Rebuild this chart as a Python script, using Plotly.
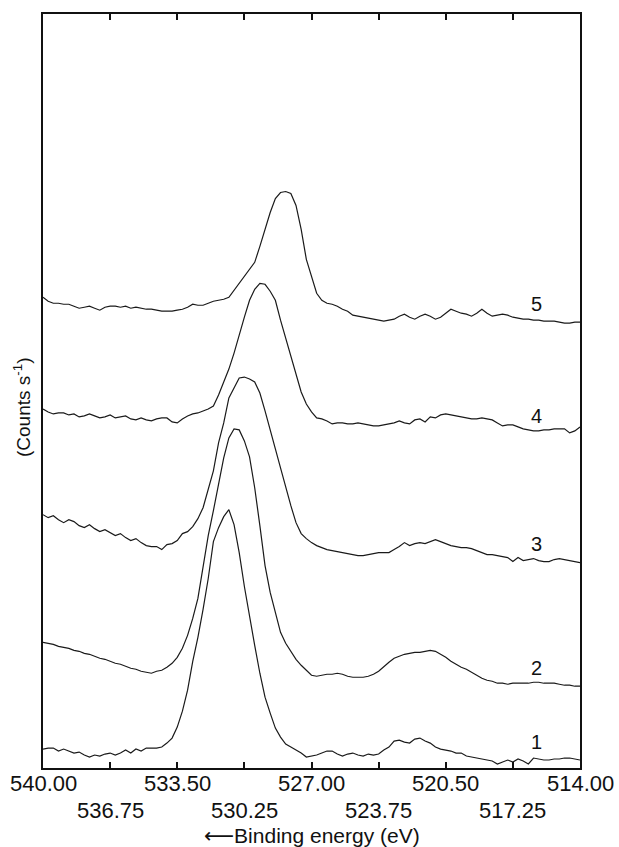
import plotly.graph_objects as go

# Binding-energy sampling of the O 1s spectra (eV), 0.25 eV step from 540 eV down to 514 eV
energy_start = 540.0
energy_step = 0.25

# Offset intensities (arbitrary units) for spectra 1-5
spectrum_1 = [
    19, 20, 20, 17, 19, 17, 15, 16, 13, 11,
    13, 12, 14, 15, 13, 15, 18, 15, 19, 17,
    20, 20, 20, 21, 25, 30, 41, 57, 78, 107,
    131, 159, 190, 227, 241, 252, 259, 244, 216, 182,
    151, 123, 95, 71, 55, 40, 31, 24, 21, 18,
    15, 11, 12, 13, 15, 17, 17, 14, 12, 14,
    15, 13, 12, 14, 13, 14, 18, 21, 27, 28,
    26, 25, 29, 30, 27, 25, 21, 19, 18, 17,
    15, 15, 12, 11, 10, 9, 8, 7, 4, 6,
    8, 6, 9, 7, 4, 10, 9, 8, 8, 9,
    9, 10, 10, 9, 8,
]
spectrum_2 = [
    126, 125, 124, 122, 121, 120, 118, 117, 115, 114,
    112, 110, 109, 107, 105, 104, 102, 100, 99, 97,
    96, 95, 97, 98, 101, 105, 111, 120, 133, 150,
    170, 200, 233, 258, 286, 311, 331, 340, 339, 328,
    312, 281, 243, 203, 176, 156, 136, 125, 117, 109,
    103, 98, 93, 92, 93, 94, 94, 95, 94, 92,
    91, 91, 91, 92, 94, 97, 102, 106, 110, 112,
    114, 115, 116, 116, 117, 118, 117, 114, 111, 107,
    104, 101, 99, 96, 93, 90, 88, 87, 85, 85,
    84, 85, 85, 85, 85, 86, 86, 85, 85, 85,
    84, 83, 83, 82, 82,
]
spectrum_3 = [
    254, 251, 253, 249, 246, 249, 247, 243, 241, 244,
    240, 237, 239, 236, 233, 235, 231, 228, 230, 226,
    223, 222, 222, 219, 224, 225, 228, 235, 237, 242,
    250, 261, 279, 298, 326, 346, 371, 381, 391, 392,
    390, 387, 376, 358, 338, 320, 301, 281, 263, 246,
    235, 230, 226, 223, 221, 219, 218, 217, 216, 215,
    214, 213, 213, 214, 215, 216, 216, 216, 219, 222,
    226, 223, 225, 226, 225, 227, 229, 227, 225, 223,
    222, 221, 221, 220, 218, 216, 214, 214, 213, 212,
    211, 207, 211, 208, 209, 210, 208, 207, 207, 209,
    210, 209, 208, 207, 206,
]
spectrum_4 = [
    360, 357, 355, 356, 356, 354, 355, 352, 353, 355,
    353, 351, 352, 354, 351, 352, 353, 350, 349, 351,
    349, 348, 350, 351, 351, 347, 346, 350, 353, 355,
    356, 358, 360, 363, 374, 387, 400, 416, 435, 452,
    469, 480, 486, 485, 478, 469, 449, 431, 415, 395,
    377, 365, 357, 351, 350, 348, 345, 346, 346, 345,
    345, 346, 345, 344, 343, 343, 344, 345, 346, 348,
    346, 345, 349, 350, 347, 352, 351, 354, 355, 354,
    353, 352, 351, 350, 350, 351, 350, 349, 346, 343,
    344, 344, 342, 340, 339, 338, 338, 339, 339, 340,
    340, 340, 336, 338, 342,
]
spectrum_5 = [
    472, 468, 466, 466, 465, 465, 463, 461, 462, 463,
    461, 459, 462, 463, 463, 462, 463, 461, 462, 461,
    460, 460, 459, 458, 458, 458, 459, 460, 462, 465,
    464, 464, 466, 468, 469, 470, 472, 479, 486, 492,
    499, 507, 523, 541, 557, 571, 577, 578, 576, 564,
    540, 510, 492, 476, 469, 466, 465, 463, 460, 458,
    454, 453, 452, 451, 450, 449, 448, 449, 450, 453,
    455, 452, 450, 453, 455, 453, 450, 452, 456, 460,
    458, 456, 455, 453, 456, 460, 456, 453, 454, 455,
    454, 452, 451, 450, 450, 449, 449, 448, 448, 448,
    447, 446, 446, 447, 447,
]

spectra = [spectrum_1, spectrum_2, spectrum_3, spectrum_4, spectrum_5]
curve_labels = ["1", "2", "3", "4", "5"]
label_energy = 516.1
label_levels = [26, 100, 225, 353, 465]

# Axis ticks every 3.25 eV, labels staggered over two rows
tick_values = [540.00, 536.75, 533.50, 530.25, 527.00, 523.75, 520.50, 517.25, 514.00]
tick_text = ["540.00", "536.75", "533.50", "530.25", "527.00", "523.75", "520.50", "517.25", "514.00"]

x_title = "<span style='font-family:DejaVu Sans'>\u27f5</span>Binding energy (eV)"
y_title = "(Counts s<sup>-1</sup>)"

FONT = "Liberation Sans, Arial, Helvetica, sans-serif"

fig = go.Figure()
for values in spectra:
    energies = [energy_start - energy_step * i for i in range(len(values))]
    fig.add_trace(go.Scatter(
        x=energies, y=values, mode="lines",
        line=dict(color="#1a1a1a", width=1.2),
        showlegend=False, hoverinfo="skip",
    ))

annotations = []
for lab, lev in zip(curve_labels, label_levels):
    annotations.append(dict(
        x=label_energy, y=lev, xref="x", yref="y", text=lab, showarrow=False,
        font=dict(family=FONT, size=20, color="#111"), xanchor="center", yanchor="middle",
    ))

# staggered tick labels: first row on even ticks, second row on odd ticks
for k, (tv, tt) in enumerate(zip(tick_values, tick_text)):
    annotations.append(dict(
        x=tv, y=0, xref="x", yref="paper", text=tt, showarrow=False,
        font=dict(family=FONT, size=22, color="#111"), xanchor="center", yanchor="middle",
        yshift=-15 if k % 2 == 0 else -42,
    ))

annotations.append(dict(
    x=0.5, y=0, xref="paper", yref="paper", text=x_title, showarrow=False,
    font=dict(family=FONT, size=21, color="#111"), xanchor="center", yanchor="middle",
    yshift=-68,
))
annotations.append(dict(
    x=0, y=0, xref="paper", yref="paper", text=y_title, showarrow=False, textangle=-90,
    font=dict(family=FONT, size=19, color="#111"), xanchor="center", yanchor="middle",
    xshift=-21, yshift=360,
))

fig.update_layout(
    width=619, height=847,
    margin=dict(l=43, r=39, t=12, b=79),
    paper_bgcolor="white", plot_bgcolor="white",
    annotations=annotations,
    xaxis=dict(
        range=[540, 514], tickvals=tick_values, showticklabels=False,
        ticks="inside", ticklen=6, tickwidth=1.5, tickcolor="#111",
        showline=True, linewidth=2.2, linecolor="#111", mirror="ticks",
        showgrid=False, zeroline=False,
    ),
    yaxis=dict(
        range=[0, 756], showticklabels=False, ticks="",
        showline=True, linewidth=1.6, linecolor="#111", mirror=True,
        showgrid=False, zeroline=False,
    ),
)

fig.write_html("out.html")
